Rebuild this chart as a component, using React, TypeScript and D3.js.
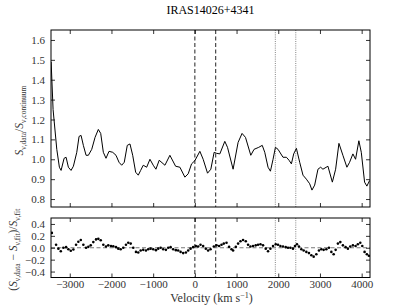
import React from 'react'
import * as d3 from 'd3'

// spectrum (top panel)
const velocity = [-3447, -3400, -3311, -3249, -3208, -3136, -3088, -3033, -2969, -2913, -2832, -2777, -2729, -2674, -2609, -2554, -2473, -2394, -2315, -2258, -2195, -2131, -2059, -1970, -1891, -1819, -1755, -1693, -1621, -1556, -1491, -1420, -1357, -1300, -1238, -1156, -1077, -998, -934, -855, -718, -599, -462, -359, -239, -160, -79, 0, 120, 199, 304, 383, 462, 520, 599, 718, 783, 917, 1037, 1132, 1214, 1341, 1420, 1532, 1616, 1676, 1755, 1812, 1875, 1932, 1994, 2114, 2195, 2258, 2315, 2370, 2435, 2514, 2593, 2674, 2753, 2808, 2873, 2952, 3016, 3071, 3191, 3297, 3376, 3455, 3550, 3646, 3711, 3790, 3854, 3933, 3991, 4070, 4125, 4190]
const ratio = [1.49, 1.25, 1.05, 0.96, 0.944, 1.005, 1.01, 0.96, 0.944, 0.965, 1.035, 1.115, 1.12, 1.07, 1.02, 1.02, 1.05, 1.11, 1.15, 1.13, 1.035, 1.005, 1.04, 1.035, 1.02, 0.985, 0.97, 0.985, 1.07, 1.077, 1.02, 0.935, 0.92, 0.944, 0.97, 0.96, 1.0, 0.97, 0.95, 0.995, 0.97, 1.02, 0.965, 0.96, 0.91, 0.927, 0.977, 0.993, 1.04, 1.0, 0.93, 0.95, 1.035, 1.03, 1.027, 1.09, 1.06, 0.95, 1.085, 1.13, 1.11, 1.02, 1.05, 1.06, 1.07, 1.035, 0.96, 0.94, 1.0, 1.06, 1.05, 1.01, 1.01, 0.995, 0.977, 1.027, 1.055, 0.985, 0.92, 0.9, 0.877, 0.845, 0.87, 0.95, 0.96, 0.95, 0.965, 0.885, 0.95, 1.08, 1.02, 0.96, 0.985, 1.027, 1.0, 1.093, 1.035, 0.885, 0.865, 0.893]

// residuals (bottom panel)
const residVelocity = [-3430, -3328, -3273, -3215, -3153, -3088, -3033, -2976, -2913, -2849, -2794, -2736, -2674, -2609, -2554, -2497, -2435, -2370, -2315, -2258, -2195, -2131, -2076, -2011, -1956, -1891, -1836, -1779, -1716, -1652, -1597, -1539, -1477, -1412, -1357, -1300, -1238, -1173, -1118, -1061, -998, -934, -879, -821, -759, -694, -639, -582, -520, -455, -400, -342, -280, -215, -160, -103, -41, 24, 79, 136, 199, 263, 318, 376, 455, 520, 582, 639, 694, 759, 821, 879, 917, 982, 1037, 1094, 1156, 1221, 1276, 1333, 1396, 1460, 1515, 1573, 1635, 1700, 1755, 1812, 1875, 1939, 1994, 2052, 2114, 2179, 2234, 2291, 2353, 2401, 2449, 2497, 2554, 2609, 2674, 2736, 2794, 2849, 2913, 2976, 3033, 3088, 3153, 3215, 3273, 3328, 3376, 3431, 3488, 3550, 3615, 3670, 3727, 3790, 3854, 3909, 3967, 4015, 4070, 4125, 4173]
const residual = [0.25, 0.05, -0.015, -0.06, 0.0, 0.01, -0.025, -0.05, -0.03, 0.05, 0.1, 0.13, 0.05, 0.0, 0.015, 0.04, 0.095, 0.14, 0.15, 0.125, 0.05, 0.02, 0.04, 0.03, 0.025, 0.01, -0.015, -0.025, 0.0, 0.05, 0.085, 0.07, 0.0, -0.07, -0.08, -0.045, -0.035, -0.045, -0.025, -0.015, -0.025, -0.04, -0.015, 0.0, -0.025, -0.035, 0.0, 0.01, -0.025, -0.04, -0.045, -0.07, -0.09, -0.08, -0.045, -0.015, 0.01, 0.03, 0.02, 0.05, 0.03, -0.015, -0.045, -0.025, 0.02, 0.04, 0.03, 0.05, 0.07, 0.085, 0.015, -0.025, -0.045, 0.015, 0.07, 0.11, 0.13, 0.11, 0.05, 0.02, 0.03, 0.04, 0.05, 0.06, 0.04, -0.015, -0.06, -0.015, 0.03, 0.06, 0.05, 0.03, 0.02, 0.01, 0.0, 0.0, -0.015, 0.03, 0.06, 0.02, -0.025, -0.045, -0.07, -0.09, -0.125, -0.15, -0.11, -0.045, -0.025, -0.035, -0.025, 0.0, -0.07, -0.11, -0.035, 0.07, 0.095, 0.04, 0.01, -0.015, 0.02, 0.04, 0.03, 0.06, 0.085, 0.03, -0.07, -0.11, -0.135]

const dashedLines = [0, 500]
const dottedLines = [1930, 2420]
const xTicks = [-3000, -2000, -1000, 0, 1000, 2000, 3000, 4000]
const topTicks = [0.8, 0.9, 1.0, 1.1, 1.2, 1.3, 1.4, 1.5, 1.6]
const bottomTicks = [-0.4, -0.2, 0.0, 0.2, 0.4]

const W = 411
const H = 308
const left = 51
const right = 370
const top1 = 30
const bot1 = 207
const top2 = 218
const bot2 = 277.5
const FONT = 'Liberation Serif, serif'

function App() {
  const ref = React.useRef(null)

  const x = d3.scaleLinear().domain([-3450, 4200]).range([left, right])
  const y1 = d3.scaleLinear().domain([0.76, 1.65]).range([bot1, top1])
  const y2 = d3.scaleLinear().domain([-0.5, 0.5]).range([bot2, top2])

  React.useEffect(() => {
    const svg = d3.select(ref.current)
    const g = svg.select('g.axes')
    g.selectAll('*').remove()

    const fmt1 = d3.format('.1f')
    const style = sel => {
      sel.attr('font-family', null)
      sel.select('.domain').remove()
      sel.selectAll('text').style('font-family', FONT).attr('font-size', 11).attr('fill', '#333')
      sel.selectAll('line').attr('stroke', '#000').attr('stroke-width', 0.8)
    }

    // top panel
    g.append('g').attr('transform', `translate(${left},0)`)
      .call(d3.axisLeft(y1).tickValues(topTicks).tickFormat(fmt1).tickSize(-4).tickPadding(6)).call(style)
    g.append('g').attr('transform', `translate(${right},0)`)
      .call(d3.axisRight(y1).tickValues(topTicks).tickFormat('').tickSize(-4)).call(style)
    g.append('g').attr('transform', `translate(0,${bot1})`)
      .call(d3.axisBottom(x).tickValues(xTicks).tickFormat('').tickSize(-4)).call(style)
    g.append('g').attr('transform', `translate(0,${top1})`)
      .call(d3.axisTop(x).tickValues(xTicks).tickFormat('').tickSize(-4)).call(style)

    // bottom panel
    g.append('g').attr('transform', `translate(${left},0)`)
      .call(d3.axisLeft(y2).tickValues(bottomTicks).tickFormat(fmt1).tickSize(-4).tickPadding(6)).call(style)
    g.append('g').attr('transform', `translate(${right},0)`)
      .call(d3.axisRight(y2).tickValues(bottomTicks).tickFormat('').tickSize(-4)).call(style)
    g.append('g').attr('transform', `translate(0,${bot2})`)
      .call(d3.axisBottom(x).tickValues(xTicks).tickFormat(d3.format('d')).tickSize(-4).tickPadding(3)).call(style)
    g.append('g').attr('transform', `translate(0,${top2})`)
      .call(d3.axisTop(x).tickValues(xTicks).tickFormat('').tickSize(-4)).call(style)
  }, [])

  const line = d3.line<number>()
    .x((d, i) => x(velocity[i]))
    .y(d => y1(d))

  const sub = { fontSize: 7.5 }
  const txt = { fontFamily: FONT }

  return (
    <svg ref={ref} width={W} height={H} style={{ position: 'absolute', left: 0, top: 0 }}>
      <rect width={W} height={H} fill="#fff" />
      <defs>
        <clipPath id="c1"><rect x={left} y={top1} width={right - left} height={bot1 - top1} /></clipPath>
        <clipPath id="c2"><rect x={left} y={top2} width={right - left} height={bot2 - top2} /></clipPath>
      </defs>

      <text x={(left + right) / 2} y={14} textAnchor="middle" style={txt} fontSize={12}>IRAS14026+4341</text>

      {/* top panel */}
      <g clipPath="url(#c1)">
        {dashedLines.map((v, i) => (
          <line key={'d1' + i} x1={x(v)} x2={x(v)} y1={top1} y2={bot1} stroke="#222" strokeWidth={1} strokeDasharray="4,2.5" />
        ))}
        {dottedLines.map((v, i) => (
          <line key={'o1' + i} x1={x(v)} x2={x(v)} y1={top1} y2={bot1} stroke="#777" strokeWidth={0.9} strokeDasharray="1,1.2" />
        ))}
        <path d={line(ratio) || ''} fill="none" stroke="#000" strokeWidth={1} />
      </g>
      <rect x={left} y={top1} width={right - left} height={bot1 - top1} fill="none" stroke="#000" strokeWidth={1} />

      {/* bottom panel */}
      <g clipPath="url(#c2)">
        {dashedLines.map((v, i) => (
          <line key={'d2' + i} x1={x(v)} x2={x(v)} y1={top2} y2={bot2} stroke="#222" strokeWidth={1} strokeDasharray="4,2.5" />
        ))}
        {dottedLines.map((v, i) => (
          <line key={'o2' + i} x1={x(v)} x2={x(v)} y1={top2} y2={bot2} stroke="#777" strokeWidth={0.9} strokeDasharray="1,1.2" />
        ))}
        <line x1={left} x2={right} y1={y2(0)} y2={y2(0)} stroke="#777" strokeWidth={1} strokeDasharray="4,2.5" />
        {residual.map((r, i) => (
          <circle key={i} cx={x(residVelocity[i])} cy={y2(r)} r={1.3} fill="#000" />
        ))}
      </g>
      <rect x={left} y={top2} width={right - left} height={bot2 - top2} fill="none" stroke="#000" strokeWidth={1} />

      <g className="axes" />

      {/* axis labels */}
      <text x={(left + right) / 2 + 1} y={302} textAnchor="middle" style={txt} fontSize={12} fill="#333">
        Velocity (km s<tspan fontSize={8} dy={-4}>−1</tspan><tspan dy={4}>)</tspan>
      </text>
      <text transform={`translate(23,${(top1 + bot1) / 2 + 2}) rotate(-90)`} textAnchor="middle" style={txt} fontSize={11.5} fill="#333">
        <tspan fontStyle="italic">S</tspan><tspan style={sub} dy={2.5}>ν,data</tspan><tspan dy={-2.5}>/</tspan><tspan fontStyle="italic">S</tspan><tspan style={sub} dy={2.5}>ν,continuum</tspan>
      </text>
      <text transform={`translate(17,${(top2 + bot2) / 2 + 2}) rotate(-90)`} textAnchor="middle" style={txt} fontSize={11.5} fill="#333">
        (<tspan fontStyle="italic">S</tspan><tspan style={sub} dy={2.5}>ν,data</tspan><tspan dy={-2.5}> − </tspan><tspan fontStyle="italic">S</tspan><tspan style={sub} dy={2.5}>ν,fit</tspan><tspan dy={-2.5}>)/</tspan><tspan fontStyle="italic">S</tspan><tspan style={sub} dy={2.5}>ν,fit</tspan>
      </text>
    </svg>
  )
}

export default App
